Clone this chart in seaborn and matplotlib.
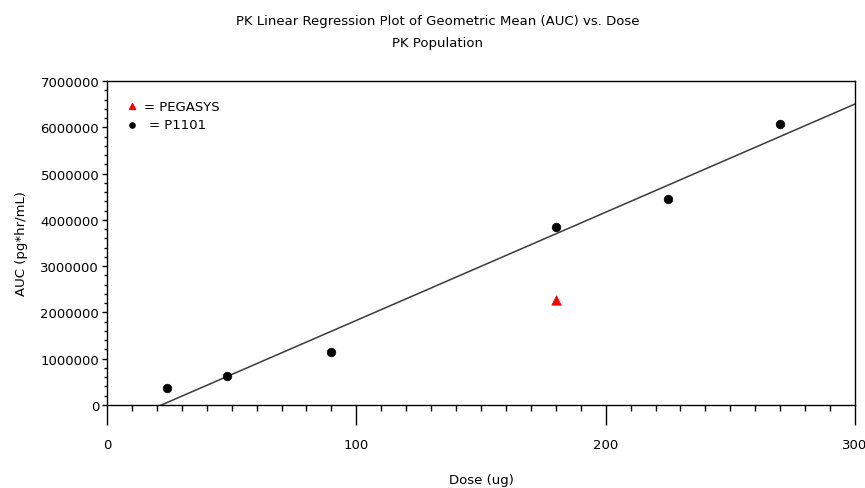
import numpy as np
import pandas as pd
import seaborn as sns
import matplotlib.pyplot as plt
from matplotlib.ticker import MultipleLocator

# P1101 geometric mean AUC by dose
p1101_dose = [24, 48, 90, 180, 225, 270]
p1101_auc = [367000, 626000, 1145000, 3846000, 4450000, 6071000]
# PEGASYS reference
peg_dose = [180]
peg_auc = [2268000]

df = pd.DataFrame({'dose': p1101_dose, 'auc': p1101_auc})
peg = pd.DataFrame({'dose': peg_dose, 'auc': peg_auc})

sns.set_style('white')
plt.rcParams['font.family'] = ['DejaVu Sans']
plt.rcParams['text.color'] = 'black'
plt.rcParams['axes.labelcolor'] = 'black'
plt.rcParams['xtick.color'] = 'black'
plt.rcParams['ytick.color'] = 'black'

fig = plt.figure(figsize=(8.65, 4.89), dpi=100)
ax = fig.add_axes([107/865, 1-406/489, (855-107)/865, (406-82)/489])
ax.set_xlim(0, 300)
ax.set_ylim(0, 7000000)

# regression line over the whole axis (clipped at y=0)
sns.regplot(data=df, x='dose', y='auc', ci=None, truncate=False, scatter=False,
            line_kws={'color': '#3a3a3a', 'lw': 1.1}, ax=ax)
sns.scatterplot(data=df, x='dose', y='auc', color='black', marker='o', s=38,
                edgecolor='black', ax=ax, zorder=3)
sns.scatterplot(data=peg, x='dose', y='auc', color='red', marker='^', s=45,
                edgecolor='red', ax=ax, zorder=3)
ax.set_xlim(0, 300)
ax.set_ylim(0, 7000000)

for s in ax.spines.values():
    s.set_color('black')
    s.set_linewidth(1.0)

ax.xaxis.set_major_locator(MultipleLocator(100))
ax.xaxis.set_minor_locator(MultipleLocator(10))
ax.yaxis.set_major_locator(MultipleLocator(1000000))
ax.yaxis.set_minor_locator(MultipleLocator(200000))
ax.tick_params(axis='x', which='major', direction='out', length=14.4, width=1,
               labelsize=9.5, pad=9.5, bottom=True)
ax.tick_params(axis='x', which='minor', direction='out', length=4.3, width=1,
               bottom=True)
ax.tick_params(axis='y', which='major', direction='out', length=3.6, width=1,
               labelsize=9.5, pad=2, left=True)
ax.tick_params(axis='y', which='minor', direction='out', length=2.2, width=1,
               left=True)
ax.ticklabel_format(axis='y', style='plain', useOffset=False)

ax.set_xlabel('Dose (ug)', fontsize=9.5, labelpad=16)
ax.set_ylabel('AUC (pg*hr/mL)', fontsize=9.5, labelpad=9)

# text-style legend
ax.scatter([10], [6450000], marker='^', color='red', s=18, zorder=4)
ax.text(15, 6450000, '= PEGASYS', fontsize=9.5, va='center')
ax.scatter([10], [6060000], marker='o', color='black', s=14, zorder=4)
ax.text(17, 6060000, '= P1101', fontsize=9.5, va='center')

fig.text(0.506, 1-22/489, 'PK Linear Regression Plot of Geometric Mean (AUC) vs. Dose',
         ha='center', va='center', fontsize=9.5)
fig.text(0.506, 1-44/489, 'PK Population', ha='center', va='center', fontsize=9.5)

fig.savefig('out.png', dpi=100)
